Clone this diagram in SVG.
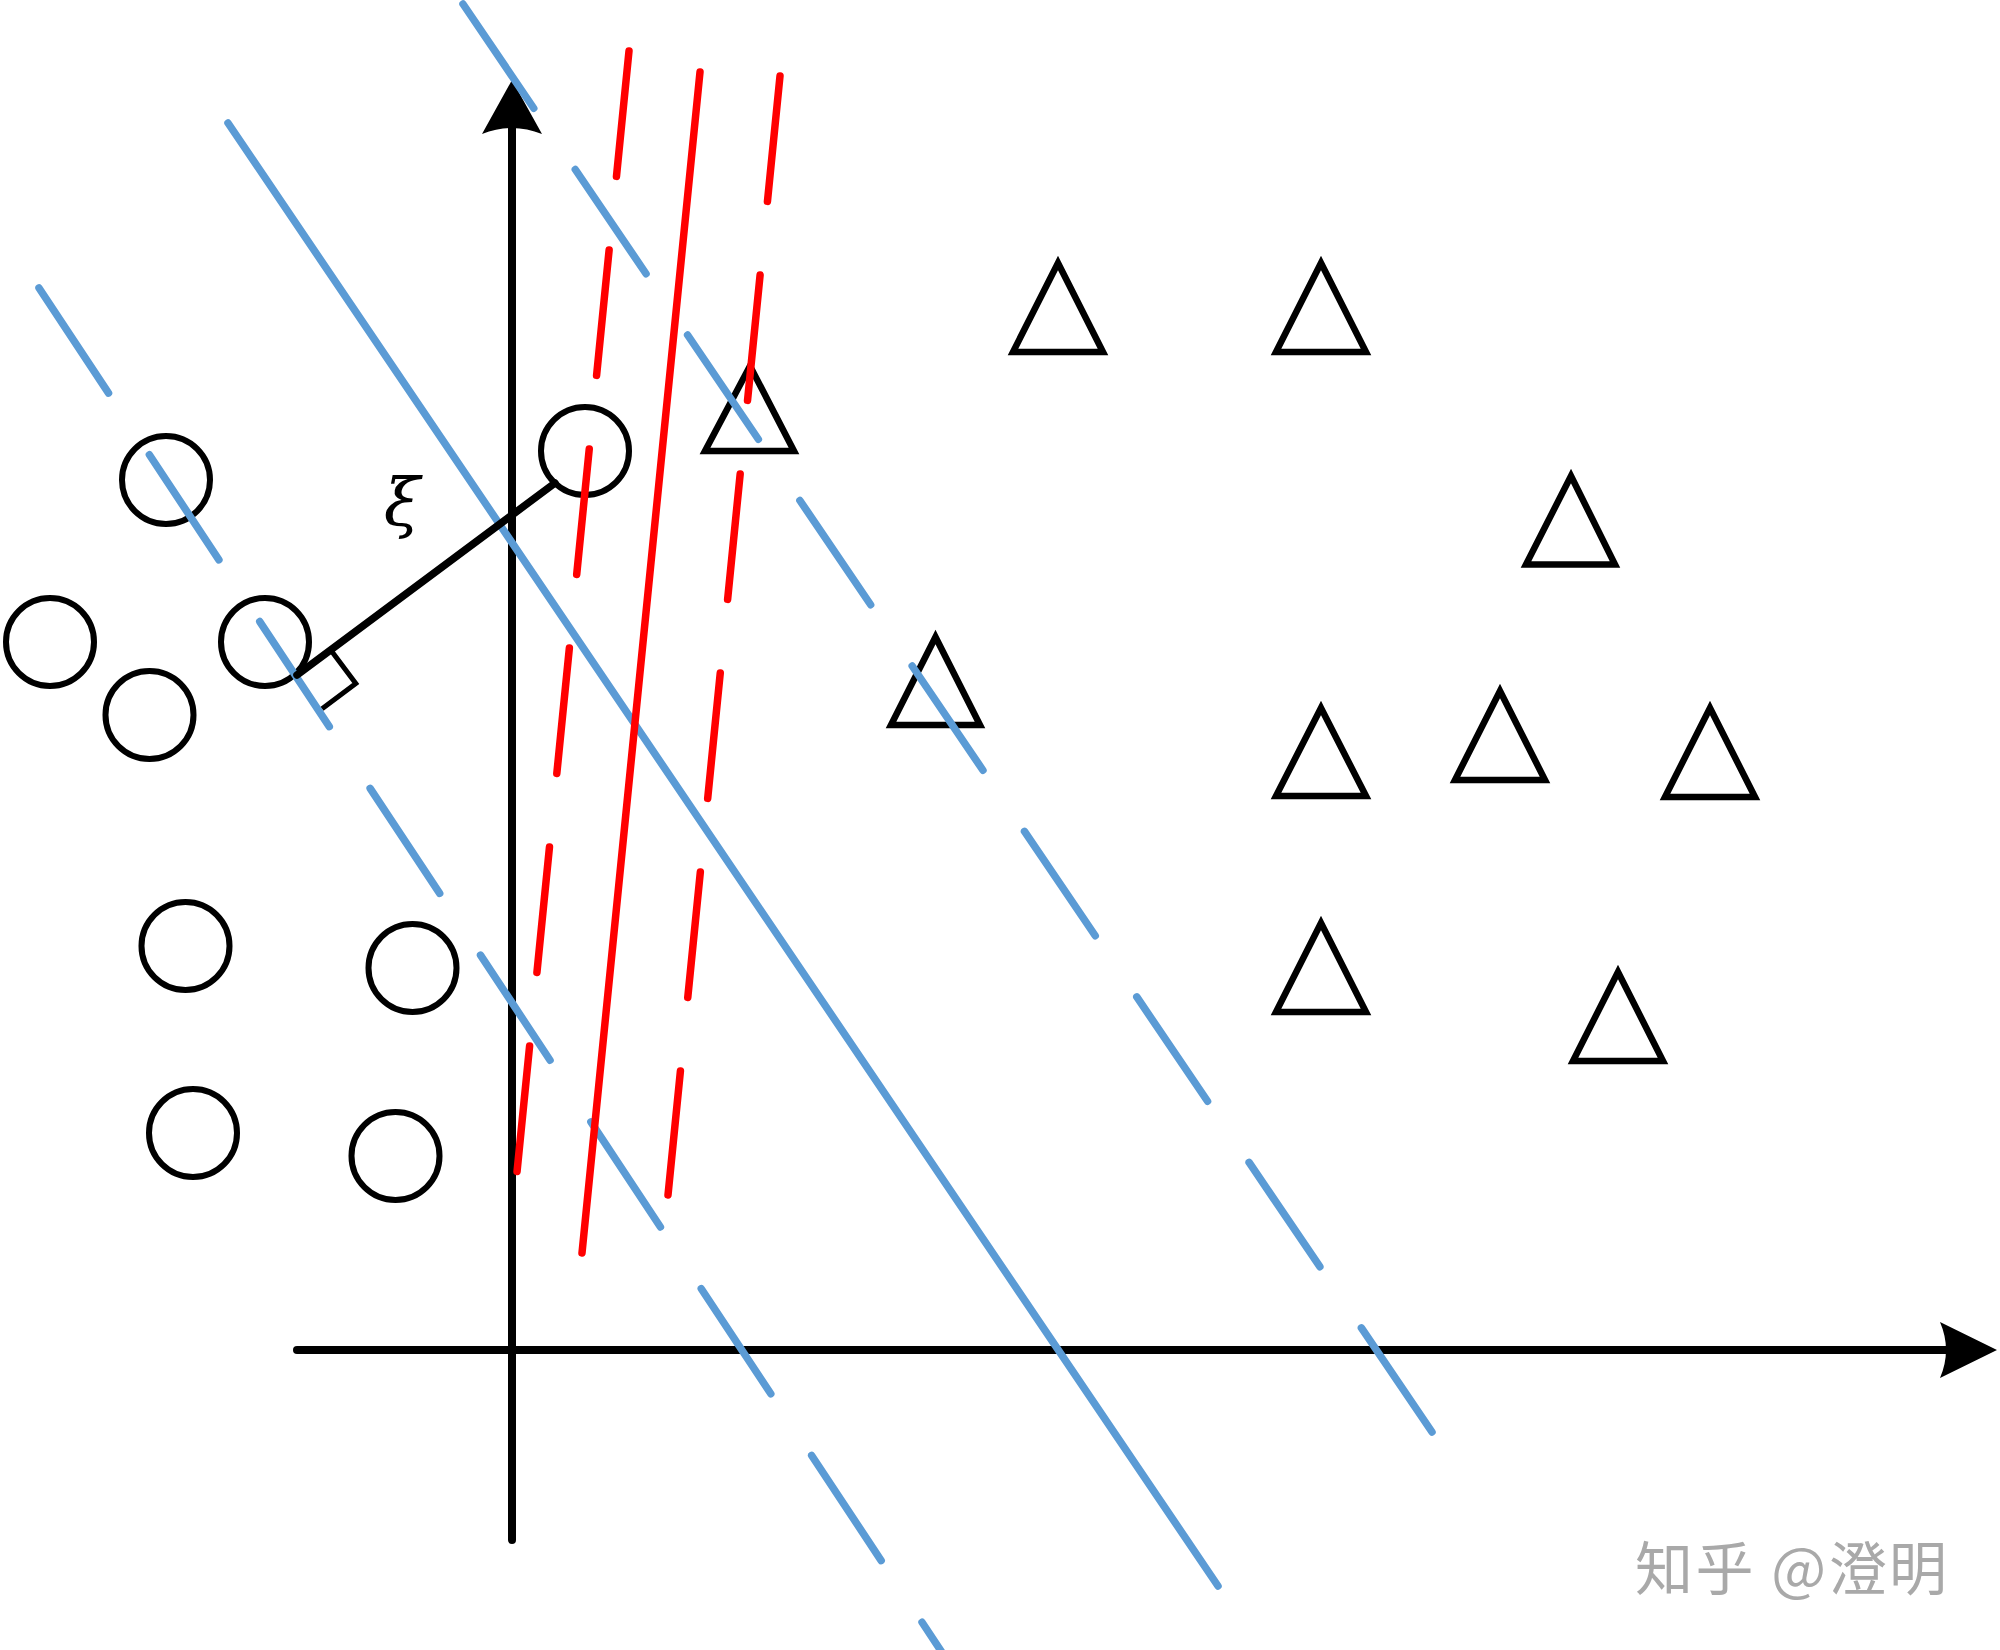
<svg xmlns="http://www.w3.org/2000/svg" width="2000" height="1650" viewBox="0 0 2000 1650">
<style>
.axis{stroke:#000;stroke-width:8;stroke-linecap:round;fill:none}
.head{fill:#000;stroke:none}
.circ{fill:none;stroke:#000;stroke-width:6}
.tri{fill:none;stroke:#000;stroke-width:6.5;stroke-linejoin:miter}
.blue{stroke:#5B9BD5;stroke-width:7.5;stroke-linecap:round;fill:none}
.red{stroke:#FF0000;stroke-width:7.5;stroke-linecap:round;fill:none}
.dash{stroke-dasharray:126 74}
.xi{stroke:#000;stroke-width:7.5;stroke-linecap:round;fill:none}
.rt{stroke:#000;stroke-width:5;fill:none;stroke-linejoin:miter}
</style>
<rect width="2000" height="1650" fill="#fff"/>
<g id="axes">
<line class="axis" x1="297" y1="1350" x2="1950" y2="1350"/>
<path class="head" d="M1997,1350 L1940,1322 Q1952,1350 1940,1378 Z"/>
<line class="axis" x1="512" y1="1540" x2="512" y2="125"/>
<path class="head" d="M512,80 L482,134 Q512,122 542,134 Z"/>
</g>
<g id="circles">
<circle id="c1" class="circ" cx="166" cy="480" r="44"/>
<circle id="c2" class="circ" cx="50" cy="642" r="44"/>
<circle id="c3" class="circ" cx="149.5" cy="715" r="44"/>
<circle id="c4" class="circ" cx="265" cy="642" r="44"/>
<circle id="c5" class="circ" cx="585" cy="451" r="44"/>
<circle id="c6" class="circ" cx="185.5" cy="946" r="44"/>
<circle id="c7" class="circ" cx="412.5" cy="968" r="44"/>
<circle id="c8" class="circ" cx="193" cy="1133" r="44"/>
<circle id="c9" class="circ" cx="395.5" cy="1156" r="44"/>
</g>
<g id="triangles">
<path id="t1" class="tri" d="M1058,263 L1103,352 L1013,352 Z"/>
<path id="t2" class="tri" d="M1321,263 L1366,352 L1276,352 Z"/>
<path id="t3" class="tri" d="M750,366 L794,451 L705,451 Z"/>
<path id="t4" class="tri" d="M1571,476 L1615,564.5 L1526,564.5 Z"/>
<path id="t5" class="tri" d="M935.5,637 L980,725 L891,725 Z"/>
<path id="t6" class="tri" d="M1321,708 L1366,796 L1276,796 Z"/>
<path id="t7" class="tri" d="M1500,691 L1545,780 L1455,780 Z"/>
<path id="t8" class="tri" d="M1710,708 L1755,797 L1665,797 Z"/>
<path id="t9" class="tri" d="M1321,923 L1366,1012 L1276,1012 Z"/>
<path id="t10" class="tri" d="M1618,972 L1663,1061 L1573,1061 Z"/>
</g>
<g id="connectors">
<line id="blue-solid" class="blue" x1="228" y1="123" x2="1218" y2="1586"/>
<line id="blue-dash-left" class="blue dash" x1="39" y1="288" x2="947" y2="1660"/>
<line id="blue-dash-right" class="blue dash" x1="463" y1="4" x2="1432" y2="1432"/>
<line id="red-solid" class="red" x1="700" y1="72" x2="582" y2="1253"/>
<line id="red-dash-left" class="red dash" x1="629" y1="51" x2="517" y2="1172"/>
<line id="red-dash-right" class="red dash" x1="780" y1="76" x2="668" y2="1195"/>
<line id="xi-line" class="xi" x1="297" y1="675" x2="555" y2="483"/>
<polyline id="right-angle" class="rt" points="330.7,649.9 355.8,683.6 322.1,708.7"/>
</g>
<g id="labels">
<text x="402" y="525" font-family="DejaVu Serif, serif" font-style="italic" font-size="66" text-anchor="middle" fill="#000">ξ</text>
<text x="1635" y="1590" font-family="Noto Sans CJK SC, sans-serif" font-size="58" fill="#A9A9A9" textLength="312" lengthAdjust="spacing">知乎 @澄明</text>
</g>
</svg>
